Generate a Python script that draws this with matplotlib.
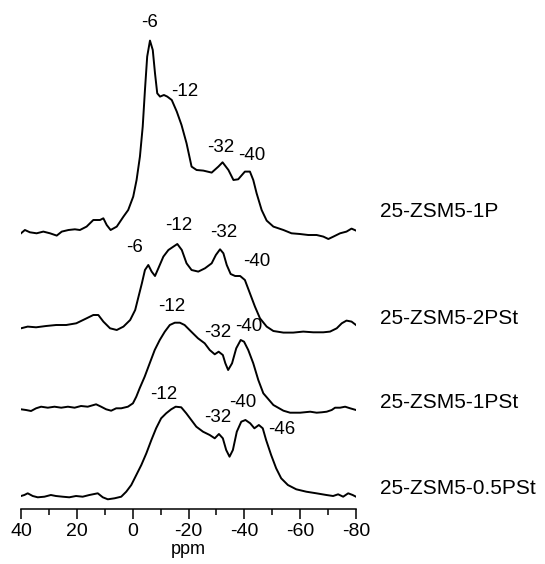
import matplotlib
matplotlib.use("Agg")
import matplotlib.pyplot as plt
from matplotlib.ticker import MultipleLocator

plt.rcParams['font.family'] = ['Liberation Sans', 'DejaVu Sans']
plt.rcParams['axes.unicode_minus'] = False

# chemical shift (ppm) and intensity (arb. units)
ppm_1p = [40.0, 38.6, 36.8, 34.4, 32.0, 29.6, 27.2, 25.4, 23.0, 20.7, 18.9, 16.5, 14.1,
          11.7, 10.5, 9.3, 7.9, 5.7, 3.3, 1.6, -0.2, -1.4, -2.6, -3.6, -4.4, -5.2, -6.2,
          -7.2, -8.0, -8.8, -9.8, -11.2, -12.4, -14.0, -15.8, -17.5, -19.3, -21.1, -22.9,
          -25.3, -28.3, -30.7, -32.2, -34.3, -36.1, -37.8, -40.2, -42.0, -43.2, -44.4,
          -46.2, -48.0, -50.4, -54.0, -56.9, -59.9, -62.9, -65.9, -68.3, -70.1, -71.9,
          -74.3, -76.6, -78.4, -80.0]
int_1p = [0, 3.3, 1, 0, 1.7, 0, -2.3, 1.7, 3.3, 4, 3.3, 6.7, 13.3,
          13.3, 15, 8.3, 3.3, 6.7, 16.7, 23.3, 36.7, 53.3, 76.7, 106.7, 143.3, 176.7, 192.7,
          183.3, 160, 140, 136.7, 138.3, 136.7, 133.3, 121.7, 108.3, 90, 66.7, 63.3,
          62.7, 60.7, 66.7, 71, 63.3, 53.3, 54, 61.7, 61.7, 53.3, 40,
          23.3, 12.7, 6.7, 3.3, 0, -0.7, -1.7, -1.7, -3.3, -5.7, -3.3,
          0, 1.7, 4.7, 2.7]

ppm_2pst = [40.0, 37.6, 34.6, 31.0, 27.4, 23.8, 20.2, 16.5, 14.1, 12.3, 10.5, 8.1,
            5.7, 3.3, 0.9, -0.9, -2.1, -3.3, -4.4, -5.6, -6.8, -8.0, -9.2, -11.0,
            -12.8, -14.6, -16.0, -17.6, -19.3, -21.1, -23.5, -25.9, -28.3, -29.8,
            -31.3, -32.5, -33.7, -35.1, -36.7, -38.5, -40.2, -42.0, -43.8, -45.6,
            -48.0, -50.4, -54.0, -57.5, -61.1, -64.7, -68.3, -70.7, -73.1, -74.9,
            -76.6, -78.4, -80.0]
int_2pst = [0, 1.7, 1, 2.3, 3.3, 3.3, 5, 10, 13.3, 13.3, 6.7, 0,
            -1.7, 1.7, 8.3, 18.3, 31.7, 45, 58.3, 63.3, 56.7, 52.3, 60, 71.7,
            78.3, 81.7, 84.3, 78.3, 65, 58.3, 56.7, 60, 65, 73.3,
            79, 75, 63.3, 54.3, 52.3, 52.3, 48.3, 35, 21.7, 10,
            1.7, -2.7, -4.3, -4.3, -3.3, -4, -4, -3.3, 0, 5,
            7.7, 6.7, 3.3]

ppm_1pst = [40.0, 38.2, 36.4, 34.6, 32.8, 30.4, 28.0, 25.6, 23.2, 20.8, 18.5, 16.1,
            13.1, 11.3, 9.5, 7.7, 5.9, 4.1, 1.7, -0.1, -1.3, -2.5, -4.3, -6.1,
            -7.9, -9.7, -11.5, -13.3, -15.1, -16.9, -18.6, -21.0, -23.4, -25.8,
            -27.6, -29.4, -30.8, -32.3, -33.2, -34.2, -35.6, -37.1, -38.7, -39.9,
            -41.4, -43.2, -45.0, -46.8, -50.4, -54.0, -56.4, -60.0, -63.6, -65.9,
            -67.7, -69.5, -71.3, -72.5, -74.3, -76.1, -77.9, -80.0]
int_1pst = [0, -0.7, -1.7, 1, 2.6, 1.6, 2.6, 1.6, 2.6, 1.6, 3.3, 2.6,
            5, 2.6, 0, -1.4, 1, 1, 2.6, 6, 12.6, 21, 32.6, 46,
            59.3, 69.3, 77.6, 84.3, 86.6, 86.6, 84.3, 77.6, 71, 66,
            59.3, 55, 57.6, 54.3, 46, 39.3, 46, 61, 69.3, 67.6,
            59.3, 46, 29.3, 16, 4.3, -1.4, -3.4, -3.4, -2.4, -3.4,
            -3, -2.4, -0.7, 1.6, 1.6, 2.6, 1, -0.7]

ppm_05pst = [40.0, 38.8, 37.6, 35.8, 34.0, 31.6, 29.3, 27.5, 25.1, 22.7, 20.3, 17.9,
             15.5, 12.5, 10.7, 8.9, 6.5, 4.1, 2.3, 0.5, -1.3, -3.1, -4.9, -6.7, -8.4,
             -10.2, -12.0, -13.8, -15.4, -17.4, -19.2, -21.0, -22.8, -25.2, -27.6,
             -29.4, -30.9, -32.3, -33.5, -34.7, -35.9, -37.3, -38.9, -40.4, -42.1,
             -43.6, -45.2, -46.6, -47.8, -49.6, -51.4, -53.2, -55.6, -58.6, -62.2,
             -65.8, -69.4, -71.8, -73.6, -75.4, -77.2, -78.8, -80.0]
int_05pst = [0, 1, 2.7, 0, -1.3, -0.7, 1, 0, -0.7, -1.3, 0, -0.7,
             1, 2.7, -1.3, -3.3, -2.3, -0.7, 4.3, 11, 21, 31, 42.7, 56, 67.7,
             77.7, 82.7, 86.7, 89.3, 88.7, 82.7, 76, 69.3, 64.3, 61,
             57.7, 62, 57.7, 46, 39.3, 46, 64.3, 74.3, 76, 72.7,
             67.7, 71, 67.7, 56, 41, 27.7, 17.7, 11, 6.7, 4.3,
             2.7, 1, 0, 1.7, -0.7, 2.7, 1, -0.7]

names = ['25-ZSM5-1P', '25-ZSM5-2PSt', '25-ZSM5-1PSt', '25-ZSM5-0.5PSt']
xs = [ppm_1p, ppm_2pst, ppm_1pst, ppm_05pst]
ys = [int_1p, int_2pst, int_1pst, int_05pst]
offsets = [330.7, 235.7, 154.7, 68]
name_heights = [22.3, 10.3, 6.6, 7.7]

# peak labels: (text, ppm, height above that trace's baseline)
peaks = [
    [('-6', -6.0, 211), ('-12', -18.8, 142), ('-32', -31.5, 86), ('-40', -42.8, 78)],
    [('-6', -0.8, 81), ('-12', -16.6, 103), ('-32', -32.7, 96), ('-40', -44.3, 66.5)],
    [('-12', -13.9, 103), ('-32', -30.3, 76.5), ('-40', -41.6, 83)],
    [('-12', -11.2, 101.5), ('-32', -30.3, 79), ('-40', -39.5, 93.5), ('-46', -53.3, 67)],
]

fig = plt.figure(figsize=(5.45, 5.64), dpi=100)
ax = fig.add_axes([21 / 545, 55 / 564, 335 / 545, 509 / 564])

for x, y, off, name, nh, pk in zip(xs, ys, offsets, names, name_heights, peaks):
    ax.plot(x, [v + off for v in y], color='black', lw=1.4)
    ax.text(-88.5, off + nh, name, fontsize=15, ha='left', va='center', clip_on=False)
    for txt, px, h in pk:
        ax.text(px, off + h, txt, fontsize=13.5, ha='center', va='center')

ax.set_xlim(40, -80)
ax.set_ylim(55, 564)
ax.xaxis.set_major_locator(MultipleLocator(20))
ax.xaxis.set_minor_locator(MultipleLocator(10))
ax.tick_params(axis='x', which='major', direction='out', length=7, width=1.1,
               labelsize=14, pad=3)
ax.tick_params(axis='x', which='minor', direction='out', length=4, width=1.1)
ax.set_yticks([])
for s in ['left', 'right', 'top']:
    ax.spines[s].set_visible(False)
ax.spines['bottom'].set_linewidth(1.1)
ax.set_xlabel('ppm', fontsize=13, labelpad=1)
ax.patch.set_alpha(0)

fig.savefig('out.png', dpi=100)
